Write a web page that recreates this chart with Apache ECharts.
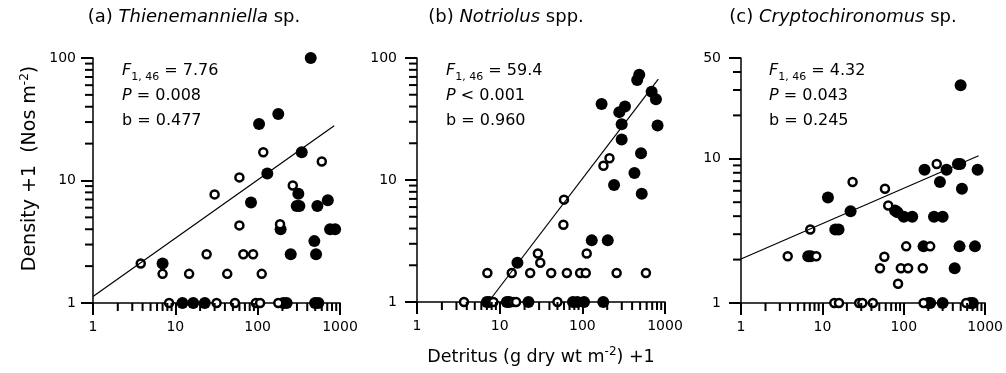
<!DOCTYPE html>
<html>
<head>
<meta charset="utf-8">
<title>Density vs detritus</title>
<script src="https://cdn.jsdelivr.net/npm/echarts@6/dist/echarts.min.js"></script>
</head>
<body style="margin:0;background:#fff">
<div id="main" style="width:1006px;height:373px;background:#fff"></div>
<script>
var FONT = 'DejaVu Sans';

// (a) Thienemanniella sp.  [detritus+1, density+1]
var aFilled = [[441,100],[178,34.9],[104,28.9],[343,17.0],[131,11.4],[83,6.6],[312,7.8],
    [298,6.2],[321,6.2],[531,6.2],[711,6.9],[190,4.0],[758,4.0],[872,4.0],[488,3.2],
    [252,2.5],[512,2.5],[7,2.1],[12.2,1],[16.5,1],[22.8,1],[205,1],[225,1],[498,1],[546,1]];
var aOpen = [[3.8,2.1],[117,17.0],[601,14.3],[60,10.6],[30,7.7],[267,9.1],[60,4.3],[187,4.4],
    [24,2.5],[67,2.5],[88,2.5],[7,1.73],[14.7,1.73],[42.7,1.73],[112,1.73],
    [8.4,1],[31.7,1],[53,1],[95,1],[107,1],[178,1]];
var aLine = [[1,1.13],[850,28]];

// (b) Notriolus spp.
var bFilled = [[488,73],[461,66],[689,53],[777,46],[813,28],[171,42],[328,40],[280,36],
    [299,28.6],[299,21.5],[513,16.6],[427,11.4],[242,9.1],[523,7.7],[130,3.2],[203,3.2],
    [16.4,2.1],[7.0,1],[7.5,1],[12.2,1],[13,1],[22.3,1],[77,1],[87,1],[105,1],[179,1]];
var bOpen = [[60,6.9],[59,4.3],[180,13.1],[213,15.1],[29,2.5],[31,2.1],[113,2.5],
    [7.1,1.73],[14,1.73],[23.4,1.73],[42,1.73],[65,1.73],[94,1.73],[110,1.73],[260,1.73],[588,1.73],
    [3.7,1],[8.4,1],[14.7,1],[15.8,1],[50,1]];
var bLine = [[7.3,1],[830,67]];

// (c) Cryptochironomus sp.
var cFilled = [[499,32.3],[180,8.4],[335,8.4],[463,9.2],[494,9.2],[807,8.4],[278,6.9],[518,6.2],
    [11.7,5.4],[22.2,4.33],[78,4.38],[83.5,4.26],[100,3.96],[127,3.96],[235,3.96],[300,3.96],
    [14.4,3.23],[15.8,3.23],[6.7,2.11],[7.2,2.11],[175,2.47],[484,2.47],[749,2.47],[422,1.74],
    [201,1],[211,1],[300,1],[652,1],[703,1]];
var cOpen = [[254,9.2],[23.5,6.9],[58.7,6.2],[64.4,4.74],[7.1,3.23],[3.75,2.11],[8.4,2.11],
    [57.7,2.09],[51,1.74],[92,1.74],[113,1.74],[171,1.74],[85,1.36],[107,2.47],[211,2.47],
    [14,1],[16,1],[28.3,1],[31,1],[41.7,1],[175,1],[584,1]];
var cLine = [[1,2.02],[830,10.5]];

// minor tick positions (2..9 of each decade)
var xMinor = [2,3,4,5,6,7,8,9,20,30,40,50,60,70,80,90,200,300,400,500,600,700,800,900];
var yMinor = [
    [2,3,4,5,6,7,8,9,20,30,40,50,60,70,80,90],
    [2,3,4,5,6,7,8,9,20,30,40,50,60,70,80,90],
    [2,3,4,5,6,7,8,9,20,30,40]
];

var titles = ['(a) {i|Thienemanniella} sp.', '(b) {i|Notriolus} spp.', '(c) {i|Cryptochironomus} sp.'];
var titleCenter = [194, 506, 843];
var stats = [
    '{i|F}{s|1, 46} = 7.76\n{i|P} = 0.008\nb = 0.477',
    '{i|F}{s|1, 46} = 59.4\n{i|P} < 0.001\nb = 0.960',
    '{i|F}{s|1, 46} = 4.32\n{i|P} = 0.043\nb = 0.245'
];
var statLeft = [122, 446, 769];

var gridLeft = [93, 417, 741];
var gridWidth = [247, 248, 248];
var yMax = [100, 100, 50];
var yLabelMargin = [17, 20, 20];

function fmt(v) { return String(v); }

var title = [];
var grid = [];
var xAxis = [];
var yAxis = [];
for (var i = 0; i < 3; i++) {
    title.push({
        text: titles[i], left: titleCenter[i], textAlign: 'center', top: 8, padding: 0,
        textStyle: {fontSize: 18, fontWeight: 'normal', color: '#000', fontFamily: FONT,
            rich: {i: {fontSize: 18, fontStyle: 'italic', color: '#000', fontFamily: FONT}}}
    });
    title.push({
        text: stats[i], left: statLeft[i], top: 58, padding: 0,
        textStyle: {fontSize: 16, lineHeight: 25, fontWeight: 'normal', color: '#000', fontFamily: FONT,
            rich: {
                i: {fontSize: 16, lineHeight: 25, fontStyle: 'italic', color: '#000', fontFamily: FONT},
                s: {fontSize: 11, lineHeight: 14, verticalAlign: 'bottom', color: '#000', fontFamily: FONT}
            }}
    });
    grid.push({left: gridLeft[i], top: 58, width: gridWidth[i], height: 245});
    xAxis.push({
        type: 'log', logBase: 10, min: 1, max: 1000, gridIndex: i,
        axisLine: {show: true, onZero: false, lineStyle: {color: '#000', width: 1.5}},
        axisTick: {show: true, length: 12, lineStyle: {color: '#000', width: 2}},
        axisLabel: {margin: 17, color: '#000', fontSize: 14, fontFamily: FONT, formatter: fmt},
        splitLine: {show: false},
        name: i === 1 ? 'Detritus (g dry wt m{sup|-2}) +1' : '',
        nameLocation: 'middle', nameGap: 44,
        nameTextStyle: {fontSize: 17.5, lineHeight: 22, color: '#000', fontFamily: FONT,
            rich: {sup: {fontSize: 12, lineHeight: 12, verticalAlign: 'top', color: '#000', fontFamily: FONT}}}
    });
    yAxis.push({
        type: 'log', logBase: 10, min: 1, max: yMax[i], gridIndex: i,
        axisLine: {show: true, onZero: false, lineStyle: {color: '#000', width: 1.5}},
        axisTick: {show: true, length: 12, lineStyle: {color: '#000', width: 2}},
        axisLabel: {margin: yLabelMargin[i], color: '#000', fontSize: 14, fontFamily: FONT, formatter: fmt},
        splitLine: {show: false},
        name: i === 0 ? 'Density +1  (Nos m{sup|-2})' : '',
        nameLocation: 'middle', nameGap: 52,
        nameTextStyle: {fontSize: 19, lineHeight: 22, color: '#000', fontFamily: FONT, padding: [0, 0, 0, 24],
            rich: {sup: {fontSize: 12, lineHeight: 12, verticalAlign: 'top', color: '#000', fontFamily: FONT}}}
    });
}

function panelSeries(gi, filled, open, line) {
    return [
        {type: 'line', xAxisIndex: gi, yAxisIndex: gi, data: line, symbol: 'none',
            lineStyle: {color: '#000', width: 1.2, opacity: 1}},
        {type: 'scatter', xAxisIndex: gi, yAxisIndex: gi, data: filled, symbol: 'circle', symbolSize: 12,
            itemStyle: {color: '#000', opacity: 1}},
        {type: 'scatter', xAxisIndex: gi, yAxisIndex: gi, data: open, symbol: 'circle', symbolSize: 8,
            itemStyle: {color: '#fff', borderColor: '#000', borderWidth: 2.5, opacity: 1}}
    ];
}

var option = {
    animation: false,
    title: title,
    grid: grid,
    xAxis: xAxis,
    yAxis: yAxis,
    series: [].concat(
        panelSeries(0, aFilled, aOpen, aLine),
        panelSeries(1, bFilled, bOpen, bLine),
        panelSeries(2, cFilled, cOpen, cLine)
    )
};

var myChart = echarts.init(document.getElementById('main'));
myChart.setOption(option);

// minor ticks (8px, outside), placed with the axes' own log scales
var ticks = [];
function addTick(gi, axis, v, len) {
    var p = myChart.convertToPixel({gridIndex: gi}, axis === 'x' ? [v, 1] : [1, v]);
    if (!p || isNaN(p[0]) || isNaN(p[1])) return;
    var shape = axis === 'x'
        ? {x: p[0] - 1, y: p[1], width: 2, height: len}
        : {x: p[0] - len, y: p[1] - 1, width: len, height: 2};
    ticks.push({type: 'rect', shape: shape, style: {fill: '#000'}, silent: true, z: 100});
}
for (var k = 0; k < 3; k++) {
    xMinor.forEach(function (v) { addTick(k, 'x', v, 8); });
    yMinor[k].forEach(function (v) { addTick(k, 'y', v, 8); });
}
myChart.setOption({graphic: ticks});
</script>
</body>
</html>
